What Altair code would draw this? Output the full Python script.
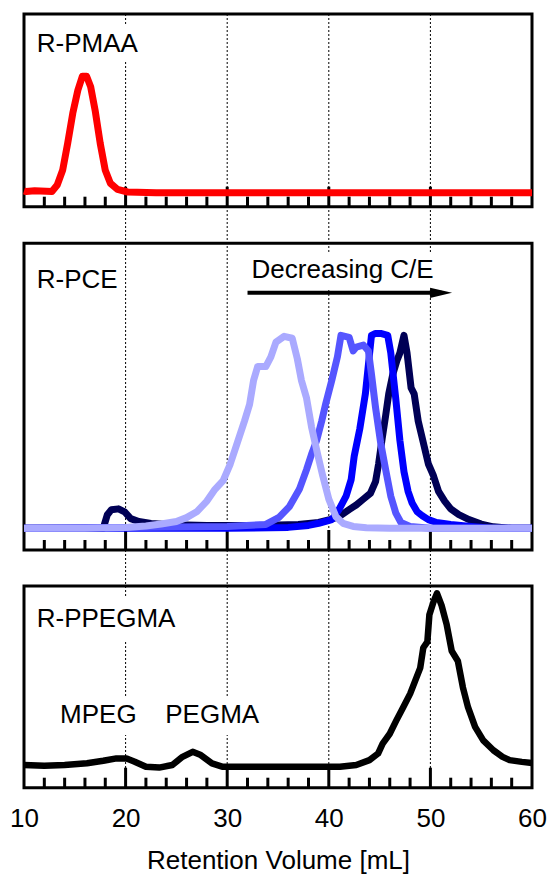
import altair as alt
import pandas as pd

# ---------------------------------------------------------------------------
# SEC traces: retention volume (mL) and normalised detector response
# ---------------------------------------------------------------------------
pmaa_x = [10, 10.2, 11.05, 12.75, 13.27, 13.8, 14.3, 14.8, 15.3, 15.75,
          16.16, 16.56, 17.0, 17.5, 18.0, 18.5, 19.2, 20.2, 23, 60]
pmaa_y = [0.015, 0.01, 0.017, 0.01, 0.065, 0.19, 0.42, 0.674, 0.87, 0.99,
          0.99, 0.9, 0.70, 0.42, 0.19, 0.08, 0.028, 0.006, 0, 0]

# R-PCE series, from highest to lowest C/E ratio
pce_light_x = [10, 16, 20, 22, 23.5, 25, 26, 27, 28, 28.8,
               29.6, 30.3, 31.0, 31.7, 32.2, 32.6, 33.0, 33.8, 34.3, 34.8,
               35.6, 36.4, 36.9, 37.3, 37.8, 38.3, 38.9, 39.4, 40.0, 40.7,
               41.4, 42.4, 43.7, 46, 60]
pce_light_y = [0, 0, 0.004, 0.012, 0.022, 0.035, 0.055, 0.085, 0.14, 0.2,
               0.245, 0.33, 0.44, 0.55, 0.635, 0.76, 0.83, 0.83, 0.88, 0.955,
               0.985, 0.975, 0.87, 0.76, 0.67, 0.52, 0.38, 0.27, 0.15, 0.06,
               0.026, 0.01, 0.003, 0, 0]

pce_medium_x = [10, 20, 30, 33.8, 35.1, 36.1, 37.1, 37.8, 38.3, 38.8,
                39.3, 39.7, 40.3, 40.85, 41.2, 42.0, 42.4, 42.7, 43.4, 43.9,
                44.2, 44.6, 45.1, 45.6, 46.1, 46.6, 47.1, 48, 50, 60]
pce_medium_y = [0, 0.004, 0.01, 0.02, 0.056, 0.11, 0.2, 0.3, 0.38, 0.45,
                0.55, 0.64, 0.76, 0.88, 0.99, 0.98, 0.91, 0.93, 0.94, 0.91,
                0.79, 0.62, 0.44, 0.30, 0.165, 0.078, 0.03, 0.01, 0, 0]

pce_blue_x = [10, 30, 36, 38, 39, 40.3, 41.0, 41.7, 42.2, 42.5,
              43.05, 43.6, 43.9, 44.2, 44.6, 45.1, 45.8, 46.1, 46.6, 47.0,
              47.4, 47.8, 48.2, 48.7, 49.2, 49.8, 50.6, 52, 54, 56, 60]
pce_blue_y = [0, 0, 0.005, 0.015, 0.026, 0.045, 0.096, 0.165, 0.25, 0.37,
              0.51, 0.69, 0.84, 0.99, 1.0, 1.0, 0.99, 0.9, 0.66, 0.45,
              0.29, 0.19, 0.13, 0.085, 0.065, 0.045, 0.03, 0.02, 0.01, 0, 0]

pce_navy_x = [10, 17.8, 18.2, 18.6, 19.3, 19.9, 20.5, 21.3, 22.5, 24,
              28, 33, 37, 39, 40, 41, 42, 42.7, 43.4, 44.1,
              44.6, 44.9, 45.25, 45.6, 45.9, 46.3, 46.7, 47.0, 47.4, 47.7,
              48.1, 48.4, 48.8, 49.3, 49.8, 50.3, 50.8, 51.4, 52.0, 52.8,
              53.8, 55.0, 56.2, 58, 60]
pce_navy_y = [0, 0, 0.07, 0.095, 0.1, 0.085, 0.05, 0.035, 0.025, 0.02,
              0.015, 0.015, 0.02, 0.03, 0.043, 0.06, 0.096, 0.12, 0.15, 0.18,
              0.24, 0.33, 0.46, 0.58, 0.69, 0.79, 0.86, 0.9, 0.99, 0.9,
              0.72, 0.69, 0.55, 0.44, 0.33, 0.27, 0.19, 0.14, 0.1, 0.07,
              0.045, 0.022, 0.008, 0, 0]

ppegma_x = [10, 12, 14, 16.2, 17.8, 19.1, 20.1, 20.9, 22.0, 23.3,
            24.6, 25.6, 26.6, 27.4, 28.5, 29.5, 31, 35, 40, 41.1,
            42.7, 44.0, 44.85, 45.3, 46.0, 46.65, 47.3, 48.0, 48.5, 49.0,
            49.3, 49.7, 49.9, 50.3, 50.65, 51.1, 51.6, 52.1, 52.7, 53.2,
            53.7, 54.4, 55.2, 56.2, 57.1, 57.8, 59, 60]
ppegma_y = [0.01, 0.005, 0.01, 0.02, 0.034, 0.048, 0.048, 0.029, 0.0, -0.005,
            0.01, 0.057, 0.086, 0.067, 0.019, 0.0, 0.0, 0.0, 0.0, 0.0,
            0.01, 0.038, 0.076, 0.133, 0.19, 0.267, 0.34, 0.42, 0.495, 0.57,
            0.686, 0.72, 0.876, 0.95, 1.0, 0.93, 0.82, 0.667, 0.61, 0.457,
            0.343, 0.23, 0.152, 0.095, 0.057, 0.038, 0.028, 0.022]

x_ticks = [10, 20, 30, 40, 50, 60]
grid_values = [20, 30, 40, 50]
minor_ticks = [v for v in range(12, 60, 2) if v % 10 != 0]

FONT = "Liberation Sans"
FS = 26

# ---------------------------------------------------------------------------
# Layout: one plot area, three stacked panels with their own y scales
# ---------------------------------------------------------------------------
W, H = 508, 774
xs = alt.Scale(domain=[10, 60], nice=False, zero=False)
x_axis = alt.Axis(values=x_ticks)

# (domain low, domain high, pixel bottom, pixel top) of each panel's frame
P1 = (-0.119, 1.518, 192.7, 0.0)
P2 = (-0.111, 1.462, 536.0, 229.3)
P3 = (-0.121, 1.042, 773.7, 572.0)


def X(field):
    return alt.X(field, scale=xs, axis=x_axis, title="Retention Volume [mL]")


def yscale(p):
    return alt.Scale(domain=[p[0], p[1]], range=[p[2], p[3]], nice=False, zero=False)


def Y(field, p):
    return alt.Y(field, scale=yscale(p), axis=None)


def frame(p):
    df = pd.DataFrame({"x0": [10], "x1": [60], "y0": [p[0]], "y1": [p[1]]})
    return alt.Chart(df).mark_rect(fill=None, stroke="black", strokeWidth=3).encode(
        x=X("x0:Q"), x2="x1:Q", y=Y("y0:Q", p), y2="y1:Q")


def ticks(p):
    major = pd.DataFrame({"x": grid_values, "y": p[0]})
    minor = pd.DataFrame({"x": minor_ticks, "y": p[0]})
    enc = dict(x=X("x:Q"), y=Y("y:Q", p), y2="y:Q")
    return [
        alt.Chart(major).mark_rule(color="black", strokeWidth=3, y2Offset=-20).encode(**enc),
        alt.Chart(minor).mark_rule(color="black", strokeWidth=3, y2Offset=-10).encode(**enc),
    ]


def boxes(p, rows):
    df = pd.DataFrame(rows, columns=["x0", "x1", "y0", "y1"])
    return alt.Chart(df).mark_rect(fill="white", strokeWidth=0).encode(
        x=X("x0:Q"), x2="x1:Q", y=Y("y0:Q", p), y2="y1:Q")


def labels(p, rows):
    df = pd.DataFrame(rows, columns=["x", "y", "label"])
    return alt.Chart(df).mark_text(align="left", baseline="alphabetic", font=FONT,
                                   fontSize=FS, color="black").encode(
        x=X("x:Q"), y=Y("y:Q", p), text="label:N")


def trace(p, xv, yv, color, width=7):
    df = pd.DataFrame({"x": xv, "y": yv})
    return alt.Chart(df).mark_line(color=color, strokeWidth=width, strokeJoin="round").encode(
        x=X("x:Q"), y=Y("y:Q", p))


# dotted reference lines running through all panels
grid = alt.Chart(pd.DataFrame({"g": grid_values})).mark_rule(
    color="black", strokeWidth=1, strokeDash=[2, 2]).encode(x=X("g:Q"))

# --- panel 1: R-PMAA ---
panel1 = alt.layer(
    boxes(P1, [[10.9, 21.8, 1.11, 1.425]]),
    frame(P1), *ticks(P1),
    trace(P1, pmaa_x, pmaa_y, "#ff0000"),
    labels(P1, [[11.25, 1.193, "R-PMAA"]]),
)

# --- panel 2: R-PCE with arrow ---
arrow_shaft = alt.Chart(pd.DataFrame({"x0": [32.0], "x1": [51.1], "y": [1.208]})).mark_rule(
    color="black", strokeWidth=4).encode(x=X("x0:Q"), x2="x1:Q", y=Y("y:Q", P2))
arrow_head = alt.Chart(pd.DataFrame({"x": [51.05], "y": [1.208]})).mark_point(
    shape="M-1,-0.46L1,0L-1,0.46Z", size=484, filled=True, color="black",
    opacity=1, strokeWidth=0).encode(x=X("x:Q"), y=Y("y:Q", P2))

panel2 = alt.layer(
    boxes(P2, [[32.1, 50.9, 1.222, 1.412]]),
    frame(P2), *ticks(P2),
    trace(P2, pce_navy_x, pce_navy_y, "#000055"),
    trace(P2, pce_blue_x, pce_blue_y, "#0000ff"),
    trace(P2, pce_medium_x, pce_medium_y, "#5555ff"),
    trace(P2, pce_light_x, pce_light_y, "#aaaaff"),
    arrow_shaft, arrow_head,
    labels(P2, [[11.25, 1.234, "R-PCE"], [32.4, 1.282, "Decreasing C/E"]]),
)

# --- panel 3: R-PPEGMA ---
panel3 = alt.layer(
    boxes(P3, [[11.0, 25.3, 0.731, 0.973], [13.3, 21.3, 0.183, 0.404],
               [23.6, 33.4, 0.183, 0.404]]),
    frame(P3), *ticks(P3),
    trace(P3, ppegma_x, ppegma_y, "black", 6.5),
    labels(P3, [[11.25, 0.807, "R-PPEGMA"], [13.55, 0.25, "MPEG"], [23.9, 0.25, "PEGMA"]]),
)

chart = alt.layer(grid, panel1, panel2, panel3).resolve_scale(
    y="independent"
).properties(
    width=W, height=H,
    autosize=alt.AutoSizeParams(type="none"),
    padding={"left": 24, "top": 14, "right": 15, "bottom": 88},
).configure_view(
    stroke=None
).configure_axisX(
    grid=False, ticks=False, tickSize=0, domain=False,
    labelFont=FONT, labelFontSize=FS, labelColor="black",
    labelBaseline="alphabetic", labelPadding=38, labelFlush=False,
    labelOverlap=False, titleFont=FONT, titleFontSize=FS,
    titleFontWeight="normal", titleColor="black",
    titleBaseline="alphabetic", titleY=80,
)

chart.save("out.html", embed_options={"renderer": "svg", "actions": False})
